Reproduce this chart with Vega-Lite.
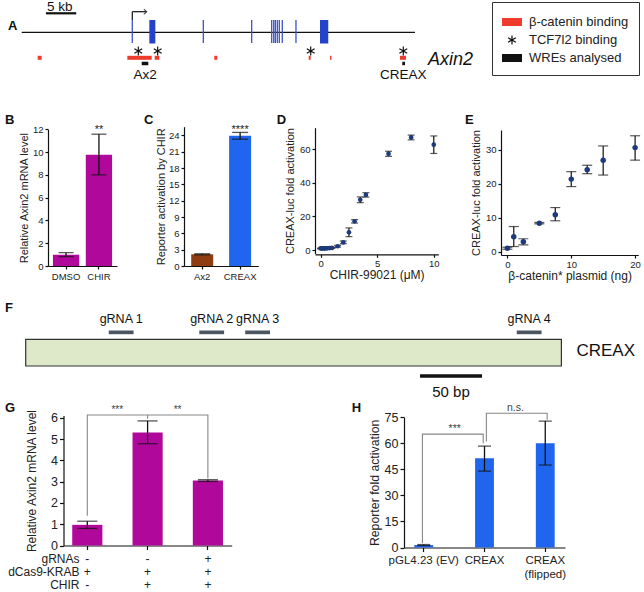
{
  "$schema": "https://vega.github.io/schema/vega-lite/v6.json",
  "padding": 0,
  "background": "white",
  "bounds": "full",
  "spacing": 0,
  "resolve": {"scale": {"color": "independent", "shape": "independent"}},
  "config": {
    "font": "Liberation Sans",
    "view": {"stroke": null},
    "axis": {"domainColor": "#111", "tickColor": "#111", "labelColor": "#222", "titleColor": "#222", "grid": false, "titleFontWeight": "normal", "tickSize": 3, "domainWidth": 1.2, "tickWidth": 1.2, "labelOverlap": false},
    "title": {"fontWeight": "bold", "fontSize": 13, "color": "#111", "anchor": "start", "frame": "group"}
  },
  "vconcat": [
    {
      "width": 644, "height": 90,
      "title": {"text": "A", "offset": -32.5, "dx": 8},
      "layer": [
        {"data": {"values": [{"gene": "Axin2", "start": 0, "end": 64.9}]},
         "layer": [
           {"mark": {"type": "rule", "y": 32.3, "strokeWidth": 1.3, "color": "#111"},
            "encoding": {"x": {"field": "start", "type": "quantitative", "scale": {"domain": [0, 70], "range": [21.7, 445.9], "nice": false, "zero": false}, "axis": null}, "x2": {"field": "end"}}},
           {"mark": {"type": "text", "y": 64.5, "dx": 13, "align": "left", "baseline": "alphabetic", "fontSize": 18, "fontStyle": "italic", "color": "#111"},
            "encoding": {"x": {"field": "end", "type": "quantitative"}, "text": {"field": "gene"}}}
         ]},
        {"data": {"values": [{"start": 21.06, "end": 22.05}, {"start": 49.22, "end": 50.59}]},
         "mark": {"type": "rect", "y": 20, "y2": 43.5, "color": "#2443c9"},
         "encoding": {"x": {"field": "start", "type": "quantitative"}, "x2": {"field": "end"}}},
        {"data": {"values": [{"pos": 18.25}, {"pos": 29.97}, {"pos": 37.95}, {"pos": 41.25}, {"pos": 41.59}, {"pos": 41.85}, {"pos": 42.18}, {"pos": 42.51}, {"pos": 43.0}, {"pos": 45.26}]},
         "mark": {"type": "rule", "y": 20, "y2": 43, "strokeWidth": 1.3, "color": "#3d52c8"},
         "encoding": {"x": {"field": "pos", "type": "quantitative"}}},
        {"data": {"values": [{"start": 18.25, "end": 20.6}]},
         "layer": [
           {"mark": {"type": "rule", "y": 11.7, "y2": 20, "strokeWidth": 1.2, "color": "#111"},
            "encoding": {"x": {"field": "start", "type": "quantitative"}}},
           {"mark": {"type": "rule", "y": 11.7, "strokeWidth": 1.2, "color": "#111"},
            "encoding": {"x": {"field": "start", "type": "quantitative"}, "x2": {"field": "end"}}},
           {"mark": {"type": "point", "shape": "M-1,-1L0,0L-1,1", "y": 11.7, "size": 28, "filled": false, "stroke": "#111", "strokeWidth": 1.2},
            "encoding": {"x": {"field": "end", "type": "quantitative"}}}
         ]},
        {"data": {"values": [
           {"feature": "β-catenin binding", "start": 2.64, "end": 3.3},
           {"feature": "β-catenin binding", "start": 17.43, "end": 21.45},
           {"feature": "β-catenin binding", "start": 21.95, "end": 22.71},
           {"feature": "β-catenin binding", "start": 31.78, "end": 32.28},
           {"feature": "β-catenin binding", "start": 47.36, "end": 47.69},
           {"feature": "β-catenin binding", "start": 50.87, "end": 51.12},
           {"feature": "β-catenin binding", "start": 62.43, "end": 63.42}]},
         "mark": {"type": "rect", "y": 55.8, "y2": 59.8},
         "encoding": {"x": {"field": "start", "type": "quantitative"}, "x2": {"field": "end"},
           "color": {"field": "feature", "type": "nominal", "scale": {"domain": ["β-catenin binding", "TCF7l2 binding", "WREs analysed"], "range": ["#ee3b2b", "#111111", "#111111"]},
             "legend": {"title": null, "orient": "none", "legendX": 492, "legendY": 2, "strokeColor": "#333", "padding": 10, "symbolSize": 400, "labelFontSize": 13, "labelOffset": 7, "rowPadding": 1, "symbolStrokeWidth": 0, "labelColor": "#222", "cornerRadius": 0}}}},
        {"data": {"values": [
           {"feature": "WREs analysed", "start": 19.8, "end": 20.89},
           {"feature": "WREs analysed", "start": 62.8, "end": 63.25}]},
         "mark": {"type": "rect", "y": 61.8, "y2": 65.2},
         "encoding": {"x": {"field": "start", "type": "quantitative"}, "x2": {"field": "end"},
           "color": {"field": "feature", "type": "nominal", "scale": {"domain": ["β-catenin binding", "TCF7l2 binding", "WREs analysed"], "range": ["#ee3b2b", "#111111", "#111111"]}}}},
        {"data": {"values": [
           {"feature": "TCF7l2 binding", "pos": 19.24},
           {"feature": "TCF7l2 binding", "pos": 22.44},
           {"feature": "TCF7l2 binding", "pos": 47.69},
           {"feature": "TCF7l2 binding", "pos": 62.97}]},
         "mark": {"type": "point", "filled": true, "y": 51, "size": 400, "opacity": 1},
         "encoding": {"x": {"field": "pos", "type": "quantitative"},
           "color": {"field": "feature", "type": "nominal", "scale": {"domain": ["β-catenin binding", "TCF7l2 binding", "WREs analysed"], "range": ["#ee3b2b", "#111111", "#111111"]}},
           "shape": {"field": "feature", "type": "nominal", "scale": {"domain": ["β-catenin binding", "TCF7l2 binding", "WREs analysed"], "range": ["M-1,-0.4L1,-0.4L1,0.4L-1,0.4Z", "M-0.06,-0.45L0.06,-0.45L0.06,0.45L-0.06,0.45ZM0.36,-0.277L0.42,-0.173L-0.36,0.277L-0.42,0.173ZM0.42,0.173L0.36,0.277L-0.42,-0.173L-0.36,-0.277Z", "M-1,-0.4L1,-0.4L1,0.4L-1,0.4Z"]},
             "legend": {"title": null, "orient": "none", "legendX": 492, "legendY": 2, "strokeColor": "#333", "padding": 10, "symbolSize": 400, "labelFontSize": 13, "labelOffset": 7, "rowPadding": 1, "symbolStrokeWidth": 0, "labelColor": "#222", "cornerRadius": 0}}}},
        {"data": {"values": [{"pos": 20.35, "label": "Ax2"}, {"pos": 62.97, "label": "CREAX"}]},
         "mark": {"type": "text", "y": 79, "baseline": "alphabetic", "align": "center", "fontSize": 13.5, "color": "#111"},
         "encoding": {"x": {"field": "pos", "type": "quantitative"}, "text": {"field": "label"}}},
        {"data": {"values": [{"start": 4, "end": 9, "label": "5 kb"}]},
         "layer": [
           {"mark": {"type": "rule", "y": 13.3, "strokeWidth": 2.2, "color": "#111"},
            "encoding": {"x": {"field": "start", "type": "quantitative"}, "x2": {"field": "end"}}},
           {"mark": {"type": "text", "y": 11.3, "dx": 1, "align": "left", "baseline": "alphabetic", "fontSize": 13.5, "color": "#111"},
            "encoding": {"x": {"field": "start", "type": "quantitative"}, "text": {"field": "label"}}}
         ]}
      ]
    },
    {
      "hconcat": [
        {
          "width": 140, "height": 210,
          "title": {"text": "B", "offset": -37.2, "dx": 5},
          "data": {"values": [
            {"treatment": "DMSO", "mean": 0.98, "lo": 0.82, "hi": 1.17, "sig": ""},
            {"treatment": "CHIR", "mean": 9.77, "lo": 8.0, "hi": 11.57, "sig": "**"}]},
          "encoding": {"x": {"field": "treatment", "type": "nominal", "sort": ["DMSO", "CHIR"], "scale": {"range": [48, 117], "paddingInner": 0.2, "paddingOuter": 0.15},
            "axis": {"title": null, "labelAngle": 0, "offset": -34, "labelFontSize": 9.5, "labelPadding": 2}}},
          "layer": [
            {"mark": {"type": "bar", "color": "#b0089b"},
             "encoding": {"y": {"field": "mean", "type": "quantitative", "scale": {"domain": [0, 12], "range": [176, 39.3], "nice": false},
               "axis": {"values": [0, 2, 4, 6, 8, 10, 12], "tickCount": 20, "format": "d", "labelOverlap": false, "offset": -48, "title": "Relative Axin2 mRNA level", "titleFontSize": 11, "labelFontSize": 9.5, "titlePadding": 3, "labelPadding": 2}}}},
            {"mark": {"type": "rule", "color": "#111", "strokeWidth": 1.3},
             "encoding": {"y": {"field": "lo", "type": "quantitative"}, "y2": {"field": "hi"}}},
            {"mark": {"type": "tick", "color": "#111", "thickness": 1.3, "size": 15, "orient": "horizontal"},
             "encoding": {"y": {"field": "lo", "type": "quantitative"}}},
            {"mark": {"type": "tick", "color": "#111", "thickness": 1.3, "size": 15, "orient": "horizontal"},
             "encoding": {"y": {"field": "hi", "type": "quantitative"}}},
            {"mark": {"type": "text", "baseline": "alphabetic", "dy": -1, "fontSize": 11, "color": "#222"},
             "encoding": {"y": {"field": "hi", "type": "quantitative"}, "text": {"field": "sig"}}}
          ]
        },
        {
          "width": 130, "height": 210,
          "title": {"text": "C", "offset": -37.2, "dx": 4},
          "data": {"values": [
            {"reporter": "Ax2", "mean": 2.15, "lo": 2.05, "hi": 2.25, "sig": ""},
            {"reporter": "CREAX", "mean": 23.94, "lo": 23.3, "hi": 24.55, "sig": "****"}]},
          "encoding": {"x": {"field": "reporter", "type": "nominal", "sort": ["Ax2", "CREAX"], "scale": {"range": [44, 118.3], "paddingInner": 0.42, "paddingOuter": 0.19},
            "axis": {"title": null, "labelAngle": 0, "offset": -34, "labelFontSize": 9.5, "labelPadding": 2}}},
          "layer": [
            {"mark": {"type": "bar"},
             "encoding": {"y": {"field": "mean", "type": "quantitative", "scale": {"domain": [0, 25.6], "range": [176, 36.7], "nice": false},
               "axis": {"values": [0, 3, 6, 9, 12, 15, 18, 21, 24], "tickCount": 20, "format": "d", "labelOverlap": false, "offset": -44, "title": "Reporter activation by CHIR", "titleFontSize": 11, "labelFontSize": 9.5, "titlePadding": 2, "labelPadding": 2}},
               "color": {"field": "reporter", "type": "nominal", "scale": {"domain": ["Ax2", "CREAX"], "range": ["#8f3c12", "#2065ee"]}, "legend": null}}},
            {"mark": {"type": "rule", "color": "#111", "strokeWidth": 1.3},
             "encoding": {"y": {"field": "lo", "type": "quantitative"}, "y2": {"field": "hi"}}},
            {"mark": {"type": "tick", "color": "#111", "thickness": 1.3, "size": 16, "orient": "horizontal"},
             "encoding": {"y": {"field": "lo", "type": "quantitative"}}},
            {"mark": {"type": "tick", "color": "#111", "thickness": 1.3, "size": 16, "orient": "horizontal"},
             "encoding": {"y": {"field": "hi", "type": "quantitative"}}},
            {"mark": {"type": "text", "baseline": "alphabetic", "dy": 1, "fontSize": 11, "color": "#222"},
             "encoding": {"y": {"field": "hi", "type": "quantitative"}, "text": {"field": "sig"}}}
          ]
        },
        {
          "width": 190, "height": 210,
          "title": {"text": "D", "offset": -37.2, "dx": 6.7},
          "data": {"values": [
            {"dose": 0, "mean": 1.0, "lo": 0.8, "hi": 1.2},
            {"dose": 0.1, "mean": 1.0, "lo": 0.8, "hi": 1.2},
            {"dose": 0.2, "mean": 1.0, "lo": 0.8, "hi": 1.2},
            {"dose": 0.3, "mean": 1.05, "lo": 0.85, "hi": 1.25},
            {"dose": 0.4, "mean": 1.0, "lo": 0.8, "hi": 1.2},
            {"dose": 0.5, "mean": 1.1, "lo": 0.9, "hi": 1.3},
            {"dose": 0.6, "mean": 1.1, "lo": 0.9, "hi": 1.3},
            {"dose": 0.8, "mean": 1.2, "lo": 1.0, "hi": 1.4},
            {"dose": 1.0, "mean": 1.3, "lo": 1.1, "hi": 1.5},
            {"dose": 1.5, "mean": 2.3, "lo": 1.8, "hi": 2.8},
            {"dose": 2.0, "mean": 4.6, "lo": 3.8, "hi": 5.4},
            {"dose": 2.5, "mean": 10.6, "lo": 8.0, "hi": 13.2},
            {"dose": 3.0, "mean": 17.1, "lo": 16.1, "hi": 18.1},
            {"dose": 3.5, "mean": 29.9, "lo": 28.2, "hi": 31.6},
            {"dose": 4.0, "mean": 32.8, "lo": 31.5, "hi": 34.1},
            {"dose": 6.0, "mean": 57.2, "lo": 55.7, "hi": 58.7},
            {"dose": 8.0, "mean": 66.9, "lo": 65.5, "hi": 68.3},
            {"dose": 10.0, "mean": 62.6, "lo": 57.4, "hi": 67.8}]},
          "encoding": {"x": {"field": "dose", "type": "quantitative", "scale": {"domain": [-0.5, 10.4], "range": [45, 168.3], "nice": false, "zero": false},
            "axis": {"values": [0, 5, 10], "tickCount": 20, "format": "d", "labelOverlap": false, "offset": -45.7, "title": "CHIR-99021 (μM)", "titleFontSize": 12, "labelFontSize": 9.5, "labelPadding": 1, "titlePadding": 2}}},
          "layer": [
            {"mark": {"type": "rule", "color": "#111", "strokeWidth": 1.2},
             "encoding": {"y": {"field": "lo", "type": "quantitative", "scale": {"domain": [-2, 72.7], "range": [163.5, 37.7], "nice": false, "zero": false},
               "axis": {"values": [0, 20, 40, 60], "tickCount": 20, "format": "d", "labelOverlap": false, "offset": -45, "title": "CREAX-luc fold activation", "titleFontSize": 11, "labelFontSize": 9.5, "titlePadding": 4, "labelPadding": 2}}, "y2": {"field": "hi"}}},
            {"mark": {"type": "tick", "color": "#111", "thickness": 1.2, "size": 7, "orient": "horizontal"},
             "encoding": {"y": {"field": "lo", "type": "quantitative"}}},
            {"mark": {"type": "tick", "color": "#111", "thickness": 1.2, "size": 7, "orient": "horizontal"},
             "encoding": {"y": {"field": "hi", "type": "quantitative"}}},
            {"mark": {"type": "point", "filled": true, "size": 22, "color": "#1d3b7a", "opacity": 1},
             "encoding": {"y": {"field": "mean", "type": "quantitative"}}}
          ]
        },
        {
          "width": 184, "height": 210,
          "title": {"text": "E", "offset": -37.2, "dx": 5},
          "data": {"values": [
            {"plasmid": 0, "mean": 1.0, "lo": 0.7, "hi": 1.3},
            {"plasmid": 1, "mean": 4.4, "lo": 1.5, "hi": 7.4},
            {"plasmid": 2.5, "mean": 2.9, "lo": 2.0, "hi": 3.8},
            {"plasmid": 5, "mean": 8.4, "lo": 8.2, "hi": 8.6},
            {"plasmid": 7.5, "mean": 10.9, "lo": 9.1, "hi": 13.0},
            {"plasmid": 10, "mean": 21.4, "lo": 19.2, "hi": 23.6},
            {"plasmid": 12.5, "mean": 24.2, "lo": 23.0, "hi": 25.5},
            {"plasmid": 15, "mean": 27.0, "lo": 22.6, "hi": 31.2},
            {"plasmid": 20, "mean": 30.7, "lo": 27.0, "hi": 34.2}]},
          "encoding": {"x": {"field": "plasmid", "type": "quantitative", "scale": {"domain": [-1, 20.5], "range": [41, 178.3], "nice": false, "zero": false},
            "axis": {"values": [0, 10, 20], "tickCount": 20, "format": "d", "labelOverlap": false, "offset": -45, "title": "β-catenin* plasmid (ng)", "titleFontSize": 12, "labelFontSize": 9.5, "labelPadding": 1, "titlePadding": 2}}},
          "layer": [
            {"mark": {"type": "rule", "color": "#111", "strokeWidth": 1.2},
             "encoding": {"y": {"field": "lo", "type": "quantitative", "scale": {"domain": [-1, 35.9], "range": [165, 40], "nice": false, "zero": false},
               "axis": {"values": [0, 10, 20, 30], "tickCount": 20, "format": "d", "labelOverlap": false, "offset": -41, "title": "CREAX-luc fold activation", "titleFontSize": 11, "labelFontSize": 9.5, "titlePadding": 4, "labelPadding": 2}}, "y2": {"field": "hi"}}},
            {"mark": {"type": "tick", "color": "#111", "thickness": 1.2, "size": 10, "orient": "horizontal"},
             "encoding": {"y": {"field": "lo", "type": "quantitative"}}},
            {"mark": {"type": "tick", "color": "#111", "thickness": 1.2, "size": 10, "orient": "horizontal"},
             "encoding": {"y": {"field": "hi", "type": "quantitative"}}},
            {"mark": {"type": "point", "filled": true, "size": 30, "color": "#1d3b7a", "opacity": 1},
             "encoding": {"y": {"field": "mean", "type": "quantitative"}}}
          ]
        }
      ],
      "bounds": "flush",
      "spacing": 0,
      "resolve": {"scale": {"color": "independent", "shape": "independent"}}
    },
    {
      "width": 644, "height": 100,
      "title": {"text": "F", "offset": -15.2, "dx": 5},
      "layer": [
        {"data": {"values": [{"element": "CREAX", "start": 0, "end": 432}]},
         "layer": [
           {"mark": {"type": "rect", "y": 39.4, "y2": 66, "fill": "#dde9c8", "stroke": "#333", "strokeWidth": 1.2},
            "encoding": {"x": {"field": "start", "type": "quantitative", "scale": {"domain": [0, 432], "range": [25.7, 561.4], "nice": false, "zero": false}, "axis": null}, "x2": {"field": "end"}}},
           {"mark": {"type": "text", "y": 56, "dx": 15, "align": "left", "baseline": "alphabetic", "fontSize": 17, "color": "#111"},
            "encoding": {"x": {"field": "end", "type": "quantitative"}, "text": {"field": "element"}}}
         ]},
        {"data": {"values": [
           {"name": "gRNA 1", "start": 67, "end": 87},
           {"name": "gRNA 2", "start": 140, "end": 160},
           {"name": "gRNA 3", "start": 177, "end": 197},
           {"name": "gRNA 4", "start": 396, "end": 416}]},
         "layer": [
           {"mark": {"type": "rect", "y": 30.5, "y2": 34.2, "fill": "#4b5662"},
            "encoding": {"x": {"field": "start", "type": "quantitative"}, "x2": {"field": "end"}}},
           {"mark": {"type": "text", "y": 23.2, "dx": 12.4, "align": "center", "baseline": "alphabetic", "fontSize": 12.5, "color": "#111"},
            "encoding": {"x": {"field": "start", "type": "quantitative"}, "text": {"field": "name"}}}
         ]},
        {"data": {"values": [{"start": 318, "end": 368, "label": "50 bp"}]},
         "layer": [
           {"mark": {"type": "rule", "y": 76, "strokeWidth": 3.5, "color": "#111"},
            "encoding": {"x": {"field": "start", "type": "quantitative"}, "x2": {"field": "end"}}},
           {"mark": {"type": "text", "y": 97, "dx": 31, "align": "center", "baseline": "alphabetic", "fontSize": 15, "color": "#111"},
            "encoding": {"x": {"field": "start", "type": "quantitative"}, "text": {"field": "label"}}}
         ]}
      ]
    },
    {
      "hconcat": [
        {
          "width": 320, "height": 192,
          "title": {"text": "G", "offset": -15.2, "dx": 5},
          "layer": [
            {"data": {"values": [
               {"sample": "-/+/-", "mean": 0.97, "lo": 0.8, "hi": 1.14},
               {"sample": "-/+/+", "mean": 5.31, "lo": 4.78, "hi": 5.85},
               {"sample": "+/+/+", "mean": 3.05, "lo": 3.01, "hi": 3.09}]},
             "encoding": {"x": {"field": "sample", "type": "nominal", "scale": {"domain": ["-/+/-", "-/+/+", "+/+/+"], "range": [63.5, 231.7], "paddingInner": 0.5, "paddingOuter": 0.145},
               "axis": {"labelExpr": "split(datum.label, '/')", "labelAngle": 0, "labelFontSize": 12, "labelLineHeight": 13, "labelPadding": 3.5, "tickSize": 4, "offset": -46.5,
                 "title": ["gRNAs", "dCas9-KRAB", "CHIR"], "titleFontSize": 12, "titleLineHeight": 13, "titleAlign": "right", "titleBaseline": "top", "titleX": 79, "titleY": 7.5}}},
             "layer": [
               {"mark": {"type": "bar", "color": "#b0089b"},
                "encoding": {"y": {"field": "mean", "type": "quantitative", "scale": {"domain": [0, 6.1], "range": [145.5, 15.6], "nice": false},
                  "axis": {"values": [0, 1, 2, 3, 4, 5, 6], "tickCount": 20, "format": "d", "labelOverlap": false, "offset": -63.5, "title": "Relative Axin2 mRNA level", "titleFontSize": 12, "labelFontSize": 12.5, "tickSize": 4, "labelPadding": 2, "titlePadding": 12}}}},
               {"mark": {"type": "rule", "color": "#111", "strokeWidth": 1.3},
                "encoding": {"y": {"field": "lo", "type": "quantitative"}, "y2": {"field": "hi"}}},
               {"mark": {"type": "tick", "color": "#111", "thickness": 1.3, "size": 20, "orient": "horizontal"},
                "encoding": {"y": {"field": "lo", "type": "quantitative"}}},
               {"mark": {"type": "tick", "color": "#111", "thickness": 1.3, "size": 20, "orient": "horizontal"},
                "encoding": {"y": {"field": "hi", "type": "quantitative"}}}
             ]},
            {"data": {"values": [
               {"part": "a", "sample": "-/+/-", "y": 1.4, "o": 1},
               {"part": "a", "sample": "-/+/-", "y": 6.13, "o": 2},
               {"part": "a", "sample": "+/+/+", "y": 6.13, "o": 3},
               {"part": "a", "sample": "+/+/+", "y": 3.15, "o": 4},
               {"part": "b", "sample": "-/+/+", "y": 5.95, "o": 1},
               {"part": "b", "sample": "-/+/+", "y": 6.13, "o": 2}]},
             "mark": {"type": "line", "color": "#888", "strokeWidth": 1.1},
             "encoding": {"x": {"field": "sample", "type": "nominal", "scale": {"domain": ["-/+/-", "-/+/+", "+/+/+"]}},
               "y": {"field": "y", "type": "quantitative"}, "detail": {"field": "part"}, "order": {"field": "o"}}},
            {"data": {"values": [
               {"sample": "-/+/-", "y": 6.13, "label": "***"},
               {"sample": "-/+/+", "y": 6.13, "label": "**"}]},
             "mark": {"type": "text", "dx": 30, "dy": -2, "baseline": "alphabetic", "fontSize": 10, "color": "#444"},
             "encoding": {"x": {"field": "sample", "type": "nominal", "scale": {"domain": ["-/+/-", "-/+/+", "+/+/+"]}},
               "y": {"field": "y", "type": "quantitative"}, "text": {"field": "label"}}}
          ]
        },
        {
          "width": 324, "height": 192,
          "title": {"text": "H", "offset": -15.2, "dx": 31.7},
          "layer": [
            {"data": {"values": [
               {"construct": "pGL4.23 (EV)", "mean": 1.4, "lo": 1.1, "hi": 1.7},
               {"construct": "CREAX", "mean": 51.4, "lo": 44.0, "hi": 58.4},
               {"construct": "CREAX (flipped)", "mean": 60.0, "lo": 47.5, "hi": 72.8}]},
             "encoding": {"x": {"field": "construct", "type": "nominal", "scale": {"domain": ["pGL4.23 (EV)", "CREAX", "CREAX (flipped)"], "range": [84, 245], "paddingInner": 0.69, "paddingOuter": 0.17},
               "axis": {"labelExpr": "datum.label == 'CREAX (flipped)' ? ['CREAX', '(flipped)'] : datum.label", "labelAngle": 0, "labelFontSize": 11.5, "labelLineHeight": 13.5, "labelPadding": 3, "tickSize": 4, "offset": -44.5, "title": null}}},
             "layer": [
               {"mark": {"type": "bar", "color": "#2065ee"},
                "encoding": {"y": {"field": "mean", "type": "quantitative", "scale": {"domain": [0, 75], "range": [147.5, 17.3], "nice": false},
                  "axis": {"values": [0, 15, 30, 45, 60, 75], "tickCount": 20, "format": "d", "labelOverlap": false, "offset": -84, "title": "Reporter fold activation", "titleFontSize": 12.3, "labelFontSize": 12.5, "tickSize": 4, "labelPadding": 2, "titlePadding": 3}}}},
               {"mark": {"type": "rule", "color": "#111", "strokeWidth": 1.3},
                "encoding": {"y": {"field": "lo", "type": "quantitative"}, "y2": {"field": "hi"}}},
               {"mark": {"type": "tick", "color": "#111", "thickness": 1.3, "size": 13, "orient": "horizontal"},
                "encoding": {"y": {"field": "lo", "type": "quantitative"}}},
               {"mark": {"type": "tick", "color": "#111", "thickness": 1.3, "size": 13, "orient": "horizontal"},
                "encoding": {"y": {"field": "hi", "type": "quantitative"}}}
             ]},
            {"data": {"values": [
               {"construct": "pGL4.23 (EV)", "y": 2.5, "o": 1},
               {"construct": "pGL4.23 (EV)", "y": 65.3, "o": 2},
               {"construct": "CREAX", "y": 65.3, "o": 3},
               {"construct": "CREAX", "y": 60, "o": 4}]},
             "mark": {"type": "line", "color": "#888", "strokeWidth": 1.1},
             "encoding": {"x": {"field": "construct", "type": "nominal", "bandPosition": 0.43, "scale": {"domain": ["pGL4.23 (EV)", "CREAX", "CREAX (flipped)"]}},
               "y": {"field": "y", "type": "quantitative"}, "order": {"field": "o"}}},
            {"data": {"values": [
               {"construct": "CREAX", "y": 61, "o": 1},
               {"construct": "CREAX", "y": 77.3, "o": 2},
               {"construct": "CREAX (flipped)", "y": 77.3, "o": 3},
               {"construct": "CREAX (flipped)", "y": 73.6, "o": 4}]},
             "mark": {"type": "line", "color": "#888", "strokeWidth": 1.1},
             "encoding": {"x": {"field": "construct", "type": "nominal", "bandPosition": 0.6, "scale": {"domain": ["pGL4.23 (EV)", "CREAX", "CREAX (flipped)"]}},
               "y": {"field": "y", "type": "quantitative"}, "order": {"field": "o"}}},
            {"data": {"values": [
               {"construct": "pGL4.23 (EV)", "y": 65.3, "label": "***"},
               {"construct": "CREAX", "y": 77.3, "label": "n.s."}]},
             "mark": {"type": "text", "dx": 31, "dy": -2, "baseline": "alphabetic", "fontSize": 10.5, "color": "#444"},
             "encoding": {"x": {"field": "construct", "type": "nominal", "scale": {"domain": ["pGL4.23 (EV)", "CREAX", "CREAX (flipped)"]}},
               "y": {"field": "y", "type": "quantitative"}, "text": {"field": "label"}}}
          ]
        }
      ],
      "bounds": "flush",
      "spacing": 0,
      "resolve": {"scale": {"color": "independent", "shape": "independent"}}
    }
  ]
}
